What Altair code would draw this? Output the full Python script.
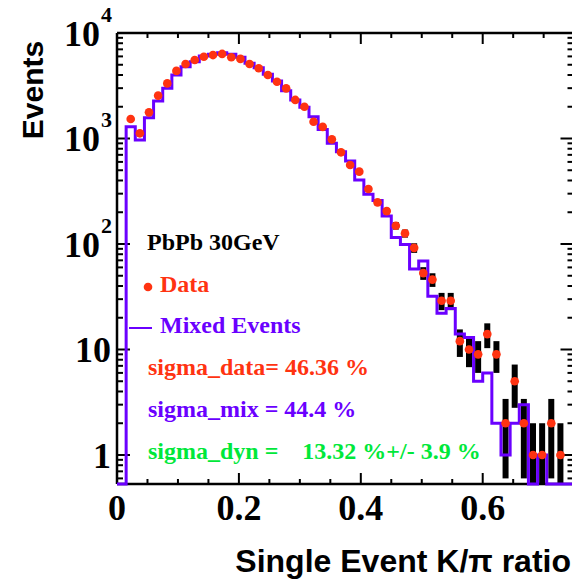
import altair as alt
import pandas as pd

# ---------------- data ----------------
BIN_W = 0.015
data_counts = [0, 1530, 1120, 1770, 2550, 3330, 4370, 5080, 5550, 5960,
               6180, 6330, 5890, 5680, 5080, 4630, 4000, 3450, 2990, 2320,
               2000, 1440, 1290, 982, 740, 561, 485, 332, 248, 205,
               149, 126, 92, 53, 46, 29, 29, 12, 10, 9,
               14, 9, 2, 5, 2, 1, 1, 2, 1, 0]
data_errors = [0, 39, 33, 42, 50, 58, 66, 71, 74, 77,
               79, 80, 77, 75, 71, 68, 63, 59, 55, 48,
               45, 38, 36, 31, 27, 24, 22, 18, 16, 14,
               12, 11, 9.6, 7.3, 6.8, 5.4, 5.4, 3.5, 3.2, 3.0,
               3.7, 3.0, 1.4, 2.2, 1.4, 1.0, 1.0, 1.4, 1.0, 0]
mixed_counts = [0, 1290, 970, 1570, 2270, 2990, 4000, 4800, 5350, 6050,
                6290, 6500, 6290, 5890, 5170, 4690, 4060, 3510, 2840, 2320,
                1980, 1610, 1220, 902, 750, 612, 405, 296, 258, 184,
                115, 99, 58, 69, 32, 22, 24.5, 14, 13, 5,
                6, 2, 1, 2, 3, 0, 1, 0, 0, 0]

x_tick_values = [0, 0.2, 0.4, 0.6]
x_tick_labels = ["0", "0.2", "0.4", "0.6"]
x_minor_ticks = [0.05, 0.1, 0.15, 0.25, 0.3, 0.35, 0.45, 0.5, 0.55, 0.65, 0.7]
y_major_ticks = [1, 10, 100, 1000, 10000]
y_minor_ticks = [m * 10 ** e for e in range(-1, 4) for m in range(2, 10) if m * 10 ** e >= 0.55]
y_plain_labels = [(1, "1"), (10, "10")]
y_power_labels = [(100, "2"), (1000, "3"), (10000, "4")]

RED = "#ff3311"
PURPLE = "#6a00ff"
GREEN = "#00e83a"
SERIF = "Liberation Serif"
SANS = "Liberation Sans"

W, H = 455, 451
FLOOR = 0.3  # display floor for empty bins (clamped to the axis bottom)

xs = alt.Scale(domain=[0, 0.7465], nice=False, zero=False)
ys = alt.Scale(type="log", domain=[0.531, 10000], clamp=True, nice=False)

# ---------------- tables ----------------
pts = pd.DataFrame({
    "center": [(i + 0.5) * BIN_W for i in range(len(data_counts))],
    "count": data_counts,
    "err": data_errors,
})
pts = pts[pts["count"] > 0].copy()
pts["lo"] = (pts["count"] - pts["err"]).clip(lower=FLOOR)
pts["hi"] = pts["count"] + pts["err"]

hist = pd.DataFrame({
    "edge": [i * BIN_W for i in range(len(mixed_counts) + 1)],
    "val": mixed_counts + [mixed_counts[-1]],
})
hist["yp"] = hist["val"].clip(lower=FLOOR)

one = pd.DataFrame({"k": [0]})

# ---------------- layers ----------------
def frame_line(**enc):
    return alt.Chart(one).mark_rule(color="black", strokeWidth=2.5).encode(**enc)

frame = [
    frame_line(x=alt.value(0), x2=alt.value(W + 3), y=alt.value(0)),
    frame_line(x=alt.value(0), y=alt.value(0), y2=alt.value(H)),
    frame_line(x=alt.value(0), x2=alt.value(W + 3), y=alt.value(H)),
]

xmaj = pd.DataFrame({"v": x_tick_values})
xmin = pd.DataFrame({"v": x_minor_ticks})
ymaj = pd.DataFrame({"v": y_major_ticks})
ymin = pd.DataFrame({"v": y_minor_ticks})

def xtick(df, y0, y1):
    return alt.Chart(df).mark_rule(color="black", strokeWidth=2).encode(
        x=alt.X("v:Q", scale=xs, axis=None), y=alt.value(y0), y2=alt.value(y1))

def ytick(df, x0, x1):
    return alt.Chart(df).mark_rule(color="black", strokeWidth=2).encode(
        y=alt.Y("v:Q", scale=ys, axis=None), x=alt.value(x0), x2=alt.value(x1))

ticks = [
    xtick(xmaj, H, H - 11), xtick(xmin, H, H - 5),
    xtick(xmaj, 0, 11), xtick(xmin, 0, 5),
    ytick(ymaj, 0, 13), ytick(ymin, 0, 6),
    ytick(ymaj, W + 1.5, W + 1.5 - 13), ytick(ymin, W + 1.5, W + 1.5 - 6),
]

errbars = alt.Chart(pts).mark_rule(color="black", strokeWidth=6).encode(
    x=alt.X("center:Q", scale=xs, axis=None),
    y=alt.Y("lo:Q", scale=ys, axis=None),
    y2="hi:Q",
)

steps = alt.Chart(hist).mark_line(interpolate="step-after", color=PURPLE, strokeWidth=3).encode(
    x=alt.X("edge:Q", scale=xs, axis=None),
    y=alt.Y("yp:Q", scale=ys, axis=None),
    order="edge:Q",
)

dots = alt.Chart(pts).mark_circle(size=75, color=RED, opacity=1).encode(
    x=alt.X("center:Q", scale=xs, axis=None),
    y=alt.Y("count:Q", scale=ys, axis=None),
)

# tick labels
xlab = alt.Chart(pd.DataFrame({"v": x_tick_values, "t": x_tick_labels})).mark_text(
    font=SERIF, fontWeight="bold", fontSize=36, baseline="alphabetic", align="center", color="black"
).encode(x=alt.X("v:Q", scale=xs, axis=None), y=alt.value(H + 36), text="t:N")

yplain = alt.Chart(pd.DataFrame({"v": [a for a, _ in y_plain_labels], "t": [b for _, b in y_plain_labels]})).mark_text(
    font=SERIF, fontWeight="bold", fontSize=36, baseline="middle", align="right", color="black", dy=2
).encode(y=alt.Y("v:Q", scale=ys, axis=None), x=alt.value(-6), text="t:N")

ypow_base = alt.Chart(pd.DataFrame({"v": [a for a, _ in y_power_labels], "t": ["10"] * len(y_power_labels)})).mark_text(
    font=SERIF, fontWeight="bold", fontSize=36, baseline="middle", align="right", color="black", dy=2
).encode(y=alt.Y("v:Q", scale=ys, axis=None), x=alt.value(-17), text="t:N")

ypow_exp = alt.Chart(pd.DataFrame({"v": [a for a, _ in y_power_labels], "t": [b for _, b in y_power_labels]})).mark_text(
    font=SERIF, fontWeight="bold", fontSize=22, baseline="middle", align="left", color="black", dy=-18
).encode(y=alt.Y("v:Q", scale=ys, axis=None), x=alt.value(-16), text="t:N")

# axis titles
ytitle = alt.Chart(one).mark_text(
    text="Events", font=SANS, fontWeight="bold", fontSize=30, angle=270,
    align="center", baseline="middle", color="black"
).encode(x=alt.value(-83), y=alt.value(57))

xtitle = alt.Chart(one).mark_text(
    text="Single Event K/\u03c0 ratio", font=SANS, fontWeight="bold", fontSize=32,
    align="right", baseline="alphabetic", color="black"
).encode(x=alt.value(454), y=alt.value(539))

# in-plot annotations
def note(text, x, y, color):
    return alt.Chart(one).mark_text(
        text=text, font=SERIF, fontWeight="bold", fontSize=24,
        align="left", baseline="alphabetic", color=color
    ).encode(x=alt.value(x), y=alt.value(y))

notes = [
    note("PbPb 30GeV", 30, 217, "black"),
    note("Data", 43, 259, RED),
    note("Mixed Events", 43, 300, PURPLE),
    note("sigma_data= 46.36 %", 31, 342, RED),
    note("sigma_mix = 44.4 %", 31, 384, PURPLE),
    note("sigma_dyn =\u00a0\u00a0\u00a0\u00a013.32 %+/- 3.9 %", 31, 426, GREEN),
]
leg_dot = alt.Chart(one).mark_circle(size=75, color=RED, opacity=1).encode(
    x=alt.value(31), y=alt.value(254))
leg_line = alt.Chart(one).mark_rule(color=PURPLE, strokeWidth=2).encode(
    x=alt.value(12), x2=alt.value(35), y=alt.value(295))

chart = alt.layer(
    *frame, *ticks, errbars, steps, dots,
    xlab, yplain, ypow_base, ypow_exp, ytitle, xtitle,
    *notes, leg_dot, leg_line,
).properties(
    width=W, height=H,
    autosize=alt.AutoSizeParams(type="none"),
    padding={"left": 117, "top": 33, "right": 0, "bottom": 100},
    background="white",
).configure_view(stroke=None)

chart.save("out.html", embed_options={"renderer": "svg", "actions": False})
